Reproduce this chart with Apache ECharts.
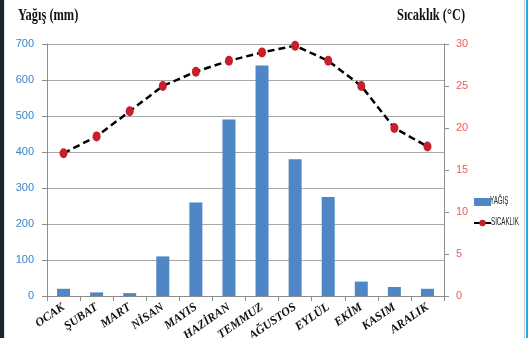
<!DOCTYPE html>
<html><head><meta charset="utf-8">
<script src="https://cdn.jsdelivr.net/npm/echarts@6/dist/echarts.min.js"></script>
<style>
html,body{margin:0;padding:0;background:#fff;}
#c{width:531px;height:338px;position:relative;}
#lb{position:absolute;left:0;top:0;width:4px;height:338px;background:#232323;}
#lb2{position:absolute;left:4px;top:0;width:1px;height:338px;background:#cfe6f7;}
#rb1{position:absolute;left:524px;top:0;width:1px;height:338px;background:#c8c8c8;}
#rb2{position:absolute;left:526px;top:0;width:2px;height:338px;background:#29a8e8;}
</style></head>
<body>
<div id="c"></div>
<div id="lb"></div><div id="lb2"></div><div id="rb1"></div><div id="rb2"></div>
<script>
var categories = ['OCAK','ŞUBAT','MART','NİSAN','MAYIS','HAZİRAN','TEMMUZ','AĞUSTOS','EYLÜL','EKİM','KASIM','ARALIK'];
var rainfall = [20, 10, 8, 110, 260, 490, 640, 380, 275, 40, 25, 20];
var temperature = [17, 19, 22, 25, 26.7, 28, 29, 29.8, 28, 25, 20, 17.8];
var leftTitle = 'Yağış (mm)';
var rightTitle = 'Sıcaklık (°C)';
var rainName = 'YAĞIŞ';
var tempName = 'SICAKLIK';

var chart = echarts.init(document.getElementById('c'), null, {renderer:'canvas'});
var sans = "'Liberation Sans',sans-serif";
chart.setOption({
  animation:false,
  grid:{left:47,right:87,top:44,bottom:42,containLabel:false,outerBoundsMode:'none'},
  graphic:[
    {type:'text',left:18,top:7,scaleX:0.73,style:{text:leftTitle,font:"bold 17px 'Liberation Serif',serif",fill:'#111'}},
    {type:'text',left:397,top:7,scaleX:0.73,style:{text:rightTitle,font:"bold 17px 'Liberation Serif',serif",fill:'#111'}},
    {type:'text',left:490,top:196,scaleX:0.62,style:{text:rainName,font:"10px 'Liberation Sans',sans-serif",fill:'#222'}},
    {type:'text',left:491,top:217,scaleX:0.62,style:{text:tempName,font:"10px 'Liberation Sans',sans-serif",fill:'#222'}}
  ],
  legend:{
    orient:'vertical',left:468,top:193,itemGap:13,itemWidth:17,itemHeight:8,
    formatter:function(){return '';},
    textStyle:{fontSize:1},
    data:[{name:rainName,icon:'rect'},{name:tempName}]
  },
  xAxis:{
    type:'category',data:categories,
    axisLine:{lineStyle:{color:'#8c8c8c',width:1}},
    axisTick:{show:true,length:5,lineStyle:{color:'#8c8c8c'}},
    axisLabel:{rotate:35,interval:0,margin:10,color:'#111',fontStyle:'italic',fontWeight:'bold',fontSize:12,fontFamily:"'Liberation Serif',serif"}
  },
  yAxis:[
    {type:'value',min:0,max:700,interval:100,
     axisLine:{show:true,lineStyle:{color:'#8c8c8c'}},
     axisTick:{show:true,length:5,lineStyle:{color:'#8c8c8c'}},
     splitLine:{lineStyle:{color:'#a8a8a8',width:1}},
     axisLabel:{color:'#3a84c9',fontSize:11,fontFamily:sans,margin:13}},
    {type:'value',min:0,max:30,interval:5,
     axisLine:{show:true,lineStyle:{color:'#8c8c8c'}},
     axisTick:{show:true,length:5,lineStyle:{color:'#8c8c8c'}},
     splitLine:{show:false},
     axisLabel:{color:'#f05a5a',fontSize:11,fontFamily:sans,margin:12}}
  ],
  series:[
    {name:rainName,type:'bar',data:rainfall,barWidth:13,itemStyle:{color:'#4f86c6'}},
    {name:tempName,type:'line',yAxisIndex:1,data:temperature,symbol:'circle',symbolSize:[8,10],
     lineStyle:{color:'#000',width:2.5,type:[7,4]},itemStyle:{color:'#c6212b'}}
  ]
});
</script>
</body></html>
